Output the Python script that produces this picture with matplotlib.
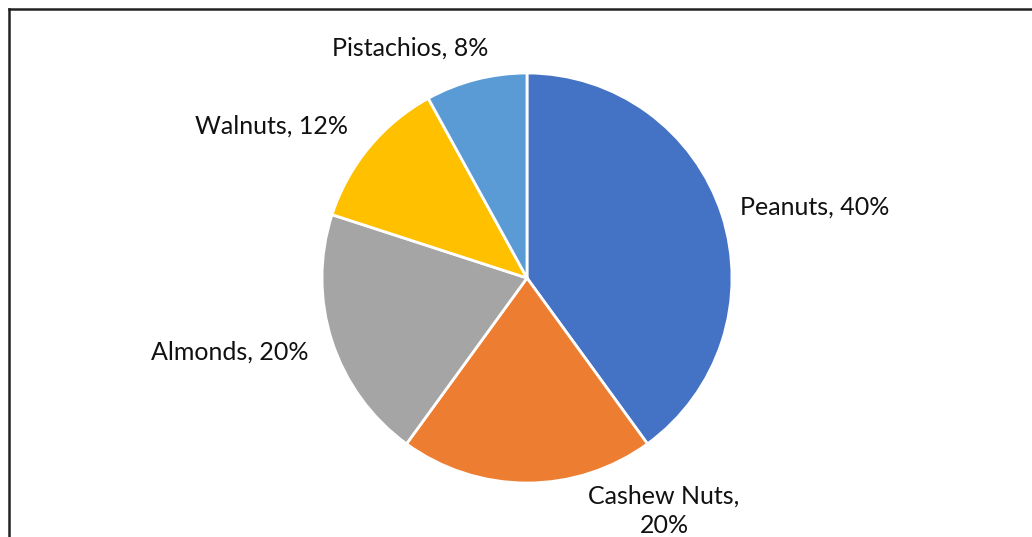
import matplotlib.pyplot as plt
from matplotlib.lines import Line2D

labels = ['Peanuts', 'Cashew Nuts', 'Almonds', 'Walnuts', 'Pistachios']
shares = [40, 20, 20, 12, 8]
colors = ['#4472C4', '#ED7D31', '#A5A5A5', '#FFC000', '#5B9BD5']

# label positions in pie-radius units
label_pos = [(1.405, 0.346), (0.668, -1.135), (-1.449, -0.361),
             (-1.244, 0.741), (-0.571, 1.122)]
label_text = ['Peanuts, 40%', 'Cashew Nuts,\n20%', 'Almonds, 20%',
              'Walnuts, 12%', 'Pistachios, 8%']

W, H = 1032, 537
fig = plt.figure(figsize=(W / 100, H / 100), dpi=100)
cx, cy, r = 527, 278, 205
ax = fig.add_axes([(cx - r) / W, (H - cy - r) / H, 2 * r / W, 2 * r / H])

ax.pie(shares, colors=colors, startangle=90, counterclock=False,
       radius=1, wedgeprops=dict(edgecolor='white', linewidth=2))
ax.set_xlim(-1, 1)
ax.set_ylim(-1, 1)
ax.set_aspect('auto')
ax.axis('off')

for (x, y), t in zip(label_pos, label_text):
    ax.text(x, y, t, ha='center', va='center', fontsize=18, family='Lato',
            color='#111111', linespacing=1.32, clip_on=False)

# chart frame (only top and left edges visible in the crop)
fig.add_artist(Line2D([8.5 / W, 8.5 / W], [0, 1 - 9 / H], color='#222222', lw=1.8))
fig.add_artist(Line2D([8.5 / W, 1], [1 - 9 / H, 1 - 9 / H], color='#222222', lw=1.8))

fig.savefig('out.png', dpi=100)
